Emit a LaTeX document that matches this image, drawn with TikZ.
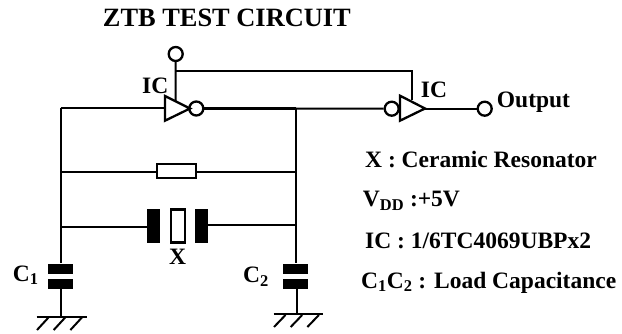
\documentclass[tikz,border=0pt]{standalone}
\usepackage{fontspec}
\setmainfont{Liberation Serif}
\tikzset{
 wire/.style={line width=2pt,line join=miter},
 thick wire/.style={line width=2.8pt},
 txt/.style={inner sep=0pt,font=\fontsize{23.5}{24}\selectfont\bfseries,anchor=base west},
 bubble/.style={circle,draw,line width=2.3pt,minimum size=14pt,inner sep=0pt,fill=white},
 inv/.style={line width=2.3pt,line join=miter,fill=white},
 plate/.style={fill=black,draw=none,inner sep=0pt},
 res/.style={draw,line width=2.1pt,fill=white,inner sep=0pt,minimum width=39pt,minimum height=14pt},
 xtal/.style={draw,line width=2.1pt,fill=white,inner sep=0pt,minimum width=14pt,minimum height=33pt},
}
\begin{document}
\begin{tikzpicture}[x=1pt,y=-1pt]
\useasboundingbox (0,0) rectangle (622,334);
% junctions
\coordinate (L1) at (60.5,108.5);
\coordinate (L2) at (60.5,172);
\coordinate (L3) at (60.5,226.7);
\coordinate (R1) at (295.5,108.5);
\coordinate (R2) at (295.5,172);
\coordinate (R3) at (295.5,224.7);
\coordinate (fbA) at (175.5,71.5);
\coordinate (fbB) at (411.5,71.5);
\coordinate (fbC) at (411.5,100);
\coordinate (inv1V) at (175.5,101);
% parts
\node[bubble] (vdd) at (175.7,54) {};
\node[bubble] (b1) at (196.3,108.5) {};
\node[bubble] (b2) at (391.7,108.7) {};
\node[bubble] (out) at (484.7,108.7) {};
\node[res] (r) at (176.2,170.7) {};
\node[xtal] (xt) at (177.8,226) {};
\node[plate,minimum width=12.7pt,minimum height=34pt] (pl) at (153.6,226) {};
\node[plate,minimum width=12.7pt,minimum height=34pt] (pr) at (201.3,226) {};
\node[plate,minimum width=25pt,minimum height=10pt] (c1a) at (60.5,268.7) {};
\node[plate,minimum width=25pt,minimum height=10pt] (c1b) at (60.5,283.7) {};
\node[plate,minimum width=25pt,minimum height=10pt] (c2a) at (295.2,268.7) {};
\node[plate,minimum width=25pt,minimum height=10pt] (c2b) at (295.2,283.7) {};
\coordinate (g1) at (60.5,316.7);
\coordinate (g2) at (296.7,314.3);
% wires
\draw[wire] (vdd) -- (inv1V);
\draw[wire] (fbA) -- (fbB) -- (fbC);
\draw[wire] (L1) -- (c1a.north -| L1);
\draw[wire] (R1) -- (R3) -- (c2a.north -| R3);
\draw[wire] (L1) -- (165,108.5);
\draw[thick wire] (b1) -- (R1);
\draw[wire] (R1) -- (b2);
\draw[wire] (425,108.7) -- (out);
\draw[wire] (L2) -- (r.west |- L2);
\draw[wire] (r.east |- R2) -- (R2);
\draw[wire] (L3) -- (pl.west |- L3);
\draw[wire] (pr.east |- R3) -- (R3);
\draw[wire] (c1b.south -| g1) -- (g1);
\draw[wire] (c2b.south -| g2) -- (g2);
% inverters
\draw[inv] (165,96) -- (165,120.7) -- (190,108.5) -- cycle;
\draw[inv] (400,95.7) -- (400,120.7) -- (425,108.5) -- cycle;
% grounds
\draw[wire] (36.7,317) -- (86.7,317);
\foreach \x in {0,16.7,33.4} \draw[wire] (37+\x,330) -- (48.5+\x,317.5);
\draw[wire] (273.5,314.3) -- (322.7,314.3);
\foreach \x in {0,16.7,33.4} \draw[wire] (274+\x,327) -- (285.5+\x,315);
% text
\node[txt,font=\fontsize{26.4}{27}\selectfont\bfseries] (title) at (102.7,27) {ZTB TEST CIRCUIT};
\node[txt] (ic1) at (142,94) {IC};
\node[txt] (ic2) at (420.7,98) {IC};
\node[txt] (outl) at (496.7,108) {Output};
\node[txt] (xl) at (169,265) {X};
\node[txt] (c1l) at (12.7,281) {C\textsubscript{1}};
\node[txt] (c2l) at (243,283) {C\textsubscript{2}};
\node[txt] (n1) at (365,168) {X : Ceramic Resonator};
\node[txt] (n2) at (362.7,207) {V\textsubscript{DD} :+5V};
\node[txt] (n3) at (365,248) {IC : 1/6TC4069UBPx2};
\node[txt] (n4) at (361,288) {C\textsubscript{1}C\textsubscript{2} : Load Capacitance};
\end{tikzpicture}
\end{document}
